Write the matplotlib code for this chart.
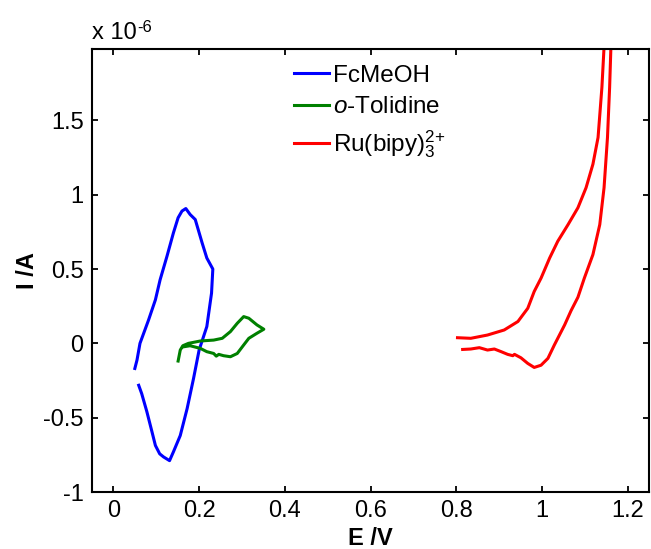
import numpy as np
import matplotlib.pyplot as plt
from matplotlib.ticker import FuncFormatter

plt.rcParams['font.family'] = ['Liberation Sans', 'DejaVu Sans']
plt.rcParams['axes.unicode_minus'] = False
plt.rcParams['mathtext.fontset'] = 'custom'
plt.rcParams['mathtext.rm'] = 'Liberation Sans'
plt.rcParams['mathtext.it'] = 'Liberation Sans:italic'

# currents are in units of 1e-6 A
# FcMeOH (blue), one loop with a small gap at the start
fc_E = [0.050, 0.055, 0.062, 0.082, 0.098, 0.109, 0.125, 0.140, 0.151, 0.160,
        0.169, 0.179, 0.191, 0.207, 0.218, 0.232, 0.229, 0.218, 0.200, 0.187,
        0.172, 0.156, 0.140, 0.131, 0.117, 0.108, 0.098, 0.090, 0.078, 0.066, 0.059]
fc_I = [-0.169, -0.113, 0.000, 0.157, 0.293, 0.428, 0.586, 0.743, 0.845, 0.890,
        0.907, 0.867, 0.833, 0.676, 0.574, 0.500, 0.338, 0.113, -0.045, -0.236,
        -0.439, -0.620, -0.730, -0.789, -0.764, -0.743, -0.687, -0.595, -0.459, -0.338, -0.282]

# o-Tolidine (green)
tol_E = [0.151, 0.156, 0.162, 0.175, 0.203, 0.234, 0.254, 0.273, 0.289, 0.304,
         0.316, 0.335, 0.351, 0.335, 0.316, 0.304, 0.289, 0.273, 0.257, 0.246,
         0.240, 0.234, 0.218, 0.203, 0.179, 0.164]
tol_I = [-0.119, -0.045, -0.016, 0.000, 0.016, 0.022, 0.034, 0.079, 0.135, 0.180,
         0.169, 0.124, 0.095, 0.068, 0.034, -0.011, -0.068, -0.090, -0.083, -0.074,
         -0.086, -0.068, -0.056, -0.034, -0.016, -0.023]

# Ru(bipy)3 2+ (red), forward and reverse scans
ru_fwd_E = [0.815, 0.834, 0.854, 0.873, 0.889, 0.905, 0.920, 0.932, 0.936, 0.951,
            0.967, 0.982, 0.998, 1.014, 1.029, 1.053, 1.068, 1.084, 1.099, 1.119,
            1.135, 1.145, 1.153, 1.158, 1.161, 1.162]
ru_fwd_I = [-0.041, -0.038, -0.029, -0.045, -0.038, -0.056, -0.074, -0.083, -0.074, -0.097,
            -0.135, -0.162, -0.147, -0.101, -0.011, 0.124, 0.220, 0.310, 0.439, 0.597,
            0.799, 1.047, 1.385, 1.723, 1.993, 2.06]
ru_rev_E = [0.803, 0.834, 0.873, 0.912, 0.944, 0.967, 0.982, 0.998, 1.018, 1.037,
            1.061, 1.084, 1.103, 1.119, 1.131, 1.140, 1.145, 1.146]
ru_rev_I = [0.038, 0.034, 0.056, 0.090, 0.147, 0.236, 0.349, 0.439, 0.574, 0.687,
            0.799, 0.912, 1.047, 1.205, 1.385, 1.723, 1.993, 2.06]

fig = plt.figure(figsize=(6.51, 5.49), dpi=100)
ax = fig.add_axes([0.1413, 0.1038, 0.8557, 0.8069])

lw = 2.2
ax.plot(fc_E, fc_I, color='#0000ff', lw=lw, label='FcMeOH')
ax.plot(tol_E, tol_I, color='#008000', lw=lw, label='$\\it{o}$-Tolidine')
ax.plot(ru_fwd_E, ru_fwd_I, color='#ff0000', lw=lw, label='Ru(bipy)$_3^{2{+}}$')
ax.plot(ru_rev_E, ru_rev_I, color='#ff0000', lw=lw)

ax.set_xlim(-0.05, 1.25)
ax.set_ylim(-1.0, 1.98)
ax.set_xticks(np.arange(0, 1.21, 0.2))
ax.set_yticks([-1, -0.5, 0, 0.5, 1, 1.5])
fmt = FuncFormatter(lambda v, p: '%g' % round(v, 2))
ax.xaxis.set_major_formatter(fmt)
ax.yaxis.set_major_formatter(fmt)
ax.tick_params(direction='in', top=True, right=True, length=4.5, width=1.3,
               labelsize=17, pad=6)
for s in ax.spines.values():
    s.set_linewidth(1.5)

ax.set_xlabel('E /V', fontsize=17, fontweight='bold', labelpad=3)
ax.set_ylabel('I /A', fontsize=17, fontweight='bold', labelpad=3)

# multiplier label in MATLAB style
t = ax.text(0.0, 1.012, 'x 10', transform=ax.transAxes, fontsize=17,
            ha='left', va='bottom')
ax.annotate('-6', xy=(1, 1), xycoords=t, xytext=(0.5, -4), textcoords='offset points',
            fontsize=12, ha='left', va='center')

ax.legend(loc='upper left', bbox_to_anchor=(0.323, 1.014), frameon=False,
          fontsize=17.5, handlelength=1.45, handletextpad=0.15, labelspacing=0.4)

fig.savefig('out.png', dpi=100)
